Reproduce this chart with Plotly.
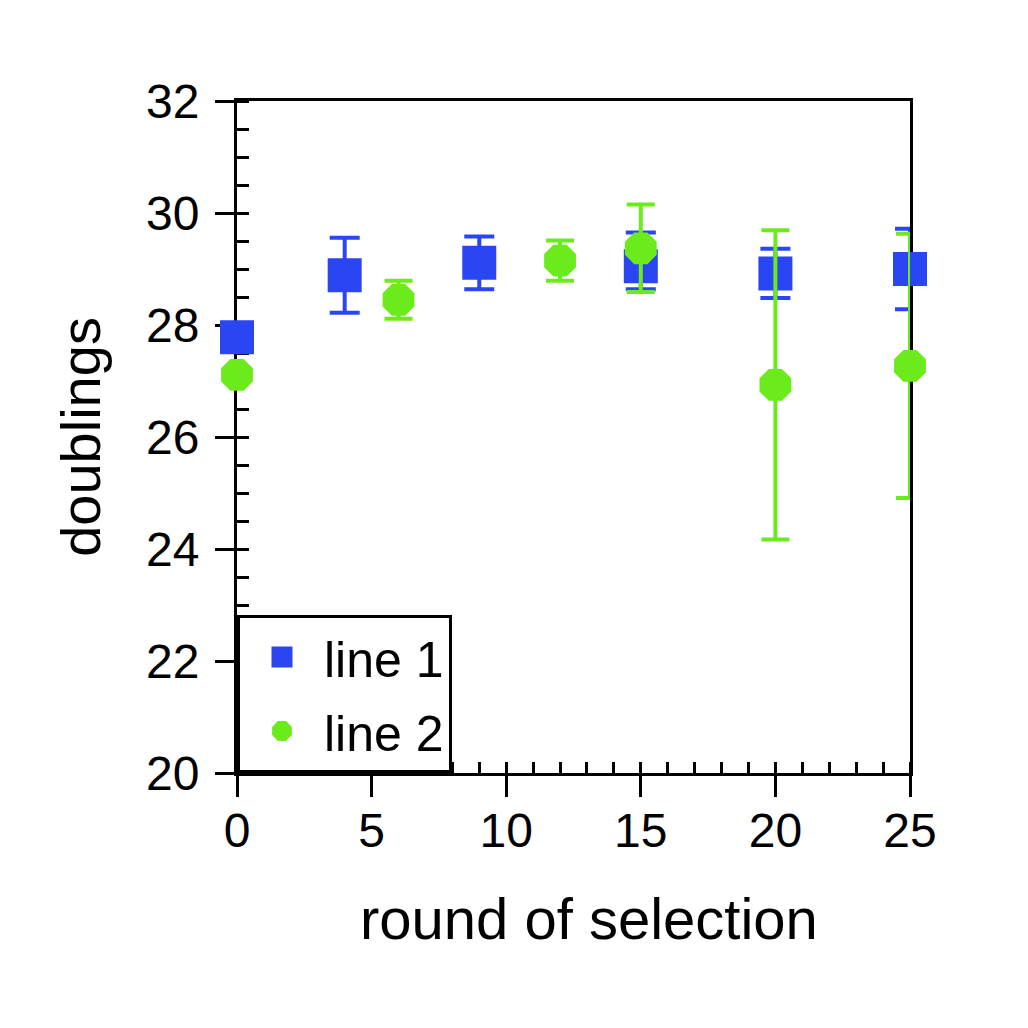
import plotly.graph_objects as go

# ---- data ----
rounds_1 = [0, 4, 9, 15, 20, 25]
doublings_1 = [27.78, 28.89, 29.11, 29.05, 28.92, 29.00]
err_1_plus = [0.0, 0.67, 0.47, 0.60, 0.44, 0.72]
err_1_minus = [0.0, 0.67, 0.47, 0.41, 0.44, 0.72]

rounds_2 = [0, 6, 12, 15, 20, 25]
doublings_2 = [27.11, 28.45, 29.15, 29.37, 26.93, 27.27]
err_2 = [0.0, 0.34, 0.36, 0.78, 2.76, 2.36]

series_names = ["line 1", "line 2"]
x_ticks = [0, 5, 10, 15, 20, 25]
y_ticks = [20, 22, 24, 26, 28, 30, 32]

BLUE = "#2A45F2"
GREEN = "#6CEB1C"
FONT = "Liberation Sans, Arial, sans-serif"

fig = go.Figure()
fig.add_trace(go.Scatter(
    x=rounds_1, y=doublings_1, name=series_names[0], mode="markers",
    marker=dict(symbol="square", size=29, color=BLUE, line=dict(color=BLUE, width=5)),
    error_y=dict(type="data", array=err_1_plus, arrayminus=err_1_minus, symmetric=False,
                 visible=True, color=BLUE, thickness=4, width=15),
    cliponaxis=False, legendgroup="g1",
))
fig.add_trace(go.Scatter(
    x=rounds_2, y=doublings_2, name=series_names[1], mode="markers",
    marker=dict(symbol="octagon", size=29, color=GREEN, line=dict(color=GREEN, width=5)),
    error_y=dict(type="data", array=err_2, visible=True, color=GREEN, thickness=4, width=14),
    cliponaxis=False, legendgroup="g2",
))

common = dict(showgrid=False, zeroline=False, linecolor="black", linewidth=3,
              tickcolor="black", tickwidth=3, layer="below traces")

fig.update_layout(
    width=1028, height=1028,
    margin=dict(l=229, r=126, t=93, b=263, autoexpand=False),
    paper_bgcolor="white", plot_bgcolor="white",
    font=dict(family=FONT, color="black", size=48),
    showlegend=True,
    legend=dict(x=0, y=0, xanchor="left", yanchor="bottom",
                bgcolor="white", bordercolor="black", borderwidth=3,
                font=dict(family=FONT, size=50, color="black"),
                itemwidth=74,
                traceorder="grouped", tracegroupgap=6),
    xaxis=dict(range=[0, 25], tickvals=x_ticks, ticks="outside", ticklen=21,
               mirror=True, tickfont=dict(size=48), ticklabelstandoff=-8,
               minor=dict(ticks="inside", dtick=1, ticklen=11, tickwidth=3, tickcolor="black"),
               **common),
    yaxis=dict(range=[20, 32], tickvals=y_ticks, ticks="outside", ticklen=19,
               mirror=True, tickfont=dict(size=48), ticklabelstandoff=6,
               minor=dict(ticks="inside", dtick=0.5, ticklen=12, tickwidth=3, tickcolor="black"),
               title=dict(text="doublings", font=dict(size=56), standoff=28),
               **common),
    xaxis2=dict(overlaying="x", matches="x", anchor="y", side="bottom", range=[0, 25],
                tickvals=x_ticks, ticks="inside", ticklen=19, showticklabels=False,
                showline=False, showgrid=False, zeroline=False,
                tickcolor="black", tickwidth=3, layer="below traces"),
    yaxis2=dict(overlaying="y", matches="y", anchor="x", side="left", range=[20, 32],
                tickvals=y_ticks, ticks="inside", ticklen=20, showticklabels=False,
                showline=False, showgrid=False, zeroline=False,
                tickcolor="black", tickwidth=3, layer="below traces"),
    annotations=[dict(text="round of selection", xref="paper", yref="paper",
                      x=0.523, y=-0.217, xanchor="center", yanchor="middle",
                      showarrow=False, font=dict(family=FONT, size=58, color="black"))],
)

fig.write_html("out.html")
